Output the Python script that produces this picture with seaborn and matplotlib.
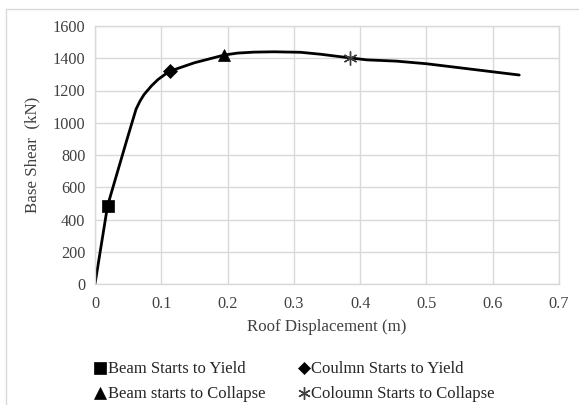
import matplotlib
matplotlib.use("Agg")
import matplotlib.pyplot as plt
import seaborn as sns
import pandas as pd
from matplotlib.lines import Line2D
from matplotlib.patches import Rectangle

sns.set_theme(style="white")
plt.rcParams['font.family'] = ['Liberation Serif', 'DejaVu Serif']

# Pushover curve
disp = [0.0, 0.019, 0.048, 0.062, 0.068, 0.074, 0.085, 0.095, 0.105, 0.113, 0.150, 0.195,
        0.215, 0.240, 0.270, 0.310, 0.340, 0.385, 0.410, 0.455, 0.500, 0.640]
shear = [0, 486, 893, 1085, 1135, 1175, 1228, 1268, 1298, 1320, 1372, 1420,
         1432, 1438, 1440, 1437, 1425, 1402, 1390, 1382, 1366, 1296]

# Events
event_labels = ["Beam Starts to Yield", "Coulmn Starts to Yield", "Beam starts to Collapse", "Coloumn Starts to Collapse"]
event_disp = [0.019, 0.113, 0.195, 0.385]
event_shear = [486, 1320, 1420, 1402]
event_markers = ["s", "D", "^", (6, 2, 0)]
event_sizes = [9, 7, 9, 10]
event_colors = ["black", "black", "black", "#404040"]

xticks = [0, 0.1, 0.2, 0.3, 0.4, 0.5, 0.6, 0.7]
xticklabels = ["0", "0.1", "0.2", "0.3", "0.4", "0.5", "0.6", "0.7"]
yticks = [0, 200, 400, 600, 800, 1000, 1200, 1400, 1600]

fig = plt.figure(figsize=(5.79, 4.05), dpi=100)
fig.patches.append(Rectangle((6/579, -0.1), 1.2, 1 - 9/405 + 0.1, transform=fig.transFigure,
                             fill=False, edgecolor="#d9d9d9", linewidth=1.0))
ax = fig.add_axes([95/579, 1 - 284/405, (559 - 95)/579, (284 - 26)/405])

df = pd.DataFrame({"disp": disp, "shear": shear})
sns.lineplot(data=df, x="disp", y="shear", ax=ax, color="black", linewidth=2, sort=False, legend=False)

for x, y, m, s, c in zip(event_disp, event_shear, event_markers, event_sizes, event_colors):
    ax.plot([x], [y], marker=m, markersize=s, color=c, markeredgecolor=c,
            markeredgewidth=1.0 if m == (6, 2, 0) else 0.5, linestyle="none", zorder=5)

ax.set_xlim(0, 0.7)
ax.set_ylim(0, 1600)
ax.set_xticks(xticks)
ax.set_xticklabels(xticklabels)
ax.set_yticks(yticks)
ax.grid(True, color="#d9d9d9", linewidth=1.0)
for sp in ax.spines.values():
    sp.set_color("#d9d9d9")
    sp.set_linewidth(1.0)
ax.tick_params(axis="both", labelsize=11.7, length=0, pad=7, colors="#404040")
ax.tick_params(axis="x", pad=9)
ax.set_xlabel("Roof Displacement (m)", fontsize=12.2, color="#404040", labelpad=5)
ax.set_ylabel("Base Shear  (kN)", fontsize=12.2, color="#404040", labelpad=9)

handles = [Line2D([0], [0], marker=m, color=c, markeredgecolor=c, linestyle="none",
                  markersize=s * 0.9, markeredgewidth=1.0 if m == (6, 2, 0) else 0.5)
           for m, s, c in zip(event_markers, event_sizes, event_colors)]
order = [0, 2, 1, 3]  # row-major layout in a 2-column legend
leg = fig.legend([handles[i] for i in order], [event_labels[i] for i in order],
                 loc="upper left", bbox_to_anchor=(87/579, 1 - 353/405),
                 ncol=2, frameon=False, fontsize=12, handlelength=0.6, handletextpad=0.15,
                 columnspacing=2.0, labelspacing=0.55, borderpad=0)

fig.savefig("out.png", dpi=100)
